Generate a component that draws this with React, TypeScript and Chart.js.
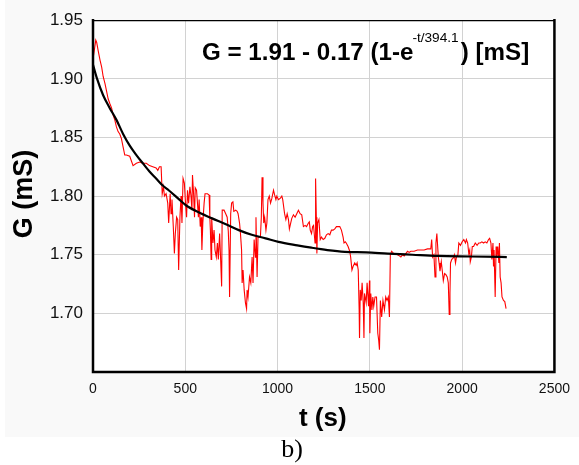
import React, { useEffect, useRef } from "react";
import { Chart, registerables } from "chart.js";

Chart.register(...registerables);

// ---- data ----
const xTickValues = [0, 500, 1000, 1500, 2000, 2500];
const yTickValues = [1.7, 1.75, 1.8, 1.85, 1.9, 1.95];

// fitted curve G = 1.91 - 0.17 (1 - e^(-t/394.1)) as drawn
const fitTime = [0, 20, 55, 91, 127, 163, 199, 235, 270, 306, 342, 378, 410, 468, 505, 575, 645, 720, 790, 860, 935, 1005, 1107, 1183, 1270, 1364, 1480, 1597, 1730, 1866, 2050, 2242];
const fitG = [1.912, 1.901, 1.886, 1.875, 1.865, 1.853, 1.843, 1.835, 1.828, 1.821, 1.815, 1.809, 1.805, 1.797, 1.792, 1.786, 1.781, 1.776, 1.771, 1.767, 1.764, 1.761, 1.758, 1.756, 1.754, 1.7525, 1.752, 1.751, 1.75, 1.749, 1.7485, 1.748];

// measured conductance trace: [t (s), G (mS)]
const measuredTrace: [number, number][] = [
  [3, 1.92], [15, 1.933], [20, 1.931], [28, 1.924], [38, 1.916], [47, 1.91], [55, 1.902], [65, 1.896], [74, 1.889], [82, 1.883],
  [91, 1.879], [101, 1.875], [109, 1.869], [118, 1.865], [127, 1.859], [136, 1.855], [145, 1.853], [154, 1.849], [163, 1.842], [172, 1.835],
  [181, 1.835], [199, 1.834], [217, 1.826], [235, 1.828], [253, 1.829], [270, 1.828], [289, 1.828], [306, 1.826], [324, 1.825], [342, 1.824],
  [351, 1.822], [360, 1.825], [369, 1.825],
  [375, 1.802], [382, 1.808], [387, 1.8], [396, 1.802], [405, 1.794], [410, 1.777], [418, 1.802], [423, 1.785], [428, 1.797], [435, 1.774],
  [441, 1.751], [446, 1.768], [453, 1.782], [459, 1.78], [464, 1.737], [471, 1.782], [477, 1.8], [482, 1.777], [488, 1.815], [495, 1.811],
  [500, 1.797], [507, 1.782], [512, 1.805], [518, 1.794], [525, 1.808], [531, 1.8], [536, 1.788], [539, 1.818], [545, 1.802], [550, 1.782],
  [554, 1.807], [561, 1.805], [566, 1.794], [571, 1.782], [575, 1.797], [581, 1.774], [586, 1.782], [590, 1.754], [595, 1.777], [602, 1.794],
  [607, 1.802], [620, 1.802], [629, 1.801], [633, 1.782], [636, 1.771], [640, 1.746], [643, 1.782], [650, 1.76], [656, 1.771], [661, 1.754],
  [668, 1.748], [674, 1.76], [679, 1.746], [686, 1.768], [691, 1.748], [697, 1.723], [700, 1.788], [710, 1.788], [719, 1.785], [727, 1.782],
  [733, 1.77], [737, 1.754], [740, 1.714], [746, 1.785], [751, 1.794], [758, 1.795],
  [763, 1.787], [773, 1.788], [781, 1.787], [786, 1.785], [794, 1.777], [799, 1.768], [805, 1.754], [808, 1.726], [813, 1.737], [819, 1.72],
  [826, 1.709], [832, 1.704], [835, 1.72], [840, 1.714], [848, 1.731], [855, 1.726], [862, 1.748], [867, 1.726], [873, 1.763], [880, 1.748],
  [883, 1.782], [889, 1.731], [894, 1.765], [907, 1.765], [912, 1.782], [916, 1.816], [921, 1.794], [925, 1.777], [930, 1.782], [937, 1.771],
  [942, 1.777], [948, 1.797], [955, 1.8], [962, 1.794], [969, 1.798], [978, 1.805], [984, 1.801], [991, 1.797], [996, 1.8], [1005, 1.797],
  [1014, 1.798], [1023, 1.8], [1028, 1.797], [1038, 1.785], [1045, 1.78], [1052, 1.785], [1059, 1.78], [1064, 1.772], [1071, 1.777], [1077, 1.781],
  [1086, 1.784], [1095, 1.782], [1104, 1.785], [1113, 1.788],
  [1122, 1.785], [1131, 1.784], [1140, 1.774], [1149, 1.775], [1157, 1.774], [1167, 1.777], [1172, 1.778], [1177, 1.771], [1184, 1.768], [1190, 1.774],
  [1195, 1.775], [1203, 1.76], [1206, 1.815], [1210, 1.782], [1213, 1.751], [1217, 1.777], [1224, 1.78], [1231, 1.763], [1238, 1.765], [1247, 1.763],
  [1256, 1.764], [1265, 1.767], [1274, 1.768], [1283, 1.767], [1292, 1.771], [1301, 1.771], [1310, 1.772], [1319, 1.774], [1328, 1.774], [1337, 1.774],
  [1346, 1.771], [1355, 1.765], [1360, 1.76], [1367, 1.761], [1372, 1.76], [1382, 1.757], [1391, 1.753], [1396, 1.748], [1403, 1.737], [1409, 1.74],
  [1418, 1.743], [1426, 1.741], [1431, 1.743], [1437, 1.737], [1442, 1.703], [1444, 1.679], [1448, 1.72], [1453, 1.711], [1458, 1.726], [1464, 1.709],
  [1468, 1.679], [1471, 1.717], [1480, 1.709], [1485, 1.726], [1493, 1.706], [1498, 1.728],
  [1500, 1.683], [1505, 1.717], [1511, 1.703], [1516, 1.714], [1521, 1.706], [1528, 1.714], [1536, 1.714], [1543, 1.683], [1548, 1.677], [1552, 1.669],
  [1557, 1.711], [1564, 1.697], [1571, 1.711], [1579, 1.703], [1586, 1.714], [1593, 1.711], [1600, 1.714], [1606, 1.697], [1611, 1.75], [1618, 1.753],
  [1629, 1.751], [1641, 1.751], [1650, 1.75], [1660, 1.749], [1668, 1.748], [1677, 1.75], [1686, 1.749], [1695, 1.751], [1704, 1.753], [1713, 1.752],
  [1722, 1.753], [1740, 1.753], [1758, 1.754], [1776, 1.754], [1794, 1.754], [1812, 1.755], [1830, 1.755], [1835, 1.763], [1840, 1.748], [1847, 1.75],
  [1853, 1.731], [1858, 1.76], [1863, 1.768],
  [1871, 1.748], [1875, 1.743], [1880, 1.736], [1887, 1.744], [1892, 1.737], [1898, 1.728], [1905, 1.734], [1912, 1.733], [1919, 1.731], [1925, 1.726],
  [1930, 1.699], [1934, 1.717], [1937, 1.743], [1944, 1.746], [1951, 1.747], [1958, 1.75], [1964, 1.743], [1969, 1.748], [1977, 1.75], [1982, 1.76],
  [1991, 1.758], [2000, 1.761], [2009, 1.763], [2018, 1.76], [2023, 1.763], [2030, 1.76], [2036, 1.751], [2041, 1.754], [2044, 1.744], [2050, 1.748],
  [2055, 1.757], [2062, 1.757], [2071, 1.76], [2081, 1.758], [2090, 1.76], [2098, 1.76], [2107, 1.761], [2116, 1.76], [2125, 1.761], [2134, 1.76],
  [2143, 1.763], [2149, 1.764], [2156, 1.76], [2161, 1.746], [2167, 1.76], [2170, 1.74], [2173, 1.754], [2179, 1.714], [2184, 1.757], [2188, 1.748],
  [2193, 1.757], [2199, 1.743], [2202, 1.76], [2206, 1.731], [2211, 1.726], [2216, 1.714], [2224, 1.711], [2231, 1.71], [2238, 1.704],
];

const FONT = "'Liberation Sans', Arial, Helvetica, sans-serif";

const decorations = {
  id: "decorations",
  beforeDraw(chart: any) {
    const { ctx, chartArea: a } = chart;
    ctx.save();
    ctx.fillStyle = "#ffffff";
    ctx.fillRect(0, 0, chart.width, chart.height);
    ctx.fillStyle = "#f9f9f9";
    ctx.fillRect(5, 0, chart.width - 5, 437);
    ctx.fillStyle = "#ffffff";
    ctx.fillRect(a.left, a.top, a.right - a.left, a.bottom - a.top);
    ctx.restore();
  },
  afterDraw(chart: any) {
    const { ctx, chartArea: a } = chart;
    ctx.save();
    // frame
    ctx.strokeStyle = "#000";
    ctx.lineCap = "square";
    ctx.lineWidth = 1.2;
    ctx.beginPath();
    ctx.moveTo(a.left, a.top + 0.5);
    ctx.lineTo(a.right, a.top + 0.5);
    ctx.stroke();
    ctx.lineWidth = 2.5;
    ctx.beginPath();
    ctx.moveTo(a.left, a.top);
    ctx.lineTo(a.left, a.bottom);
    ctx.lineTo(a.right, a.bottom);
    ctx.lineTo(a.right, a.top);
    ctx.stroke();

    ctx.fillStyle = "#000";
    // equation annotation
    ctx.save();
    ctx.translate(a.left + 109, a.top + 40);
    ctx.scale(1.05, 1);
    ctx.textBaseline = "alphabetic";
    ctx.textAlign = "left";
    let x = 0;
    ctx.font = `bold 23px ${FONT}`;
    const p1 = "G = 1.91 - 0.17 (1-e";
    ctx.fillText(p1, x, 0);
    x += ctx.measureText(p1).width;
    ctx.font = `13px ${FONT}`;
    const sup = "-t/394.1";
    ctx.fillText(sup, x - 1, -18);
    x += ctx.measureText(sup).width + 1;
    ctx.font = `bold 23px ${FONT}`;
    ctx.fillText(") [mS]", x, 0);
    ctx.restore();

    // y axis title
    ctx.save();
    ctx.translate(32, (a.top + a.bottom) / 2 - 2);
    ctx.rotate(-Math.PI / 2);
    ctx.font = `bold 27px ${FONT}`;
    ctx.textAlign = "center";
    ctx.textBaseline = "alphabetic";
    ctx.fillText("G (mS)", 0, 0);
    ctx.restore();

    // x axis title
    ctx.font = `bold 26px ${FONT}`;
    ctx.textAlign = "center";
    ctx.textBaseline = "alphabetic";
    ctx.fillText("t (s)", (a.left + a.right) / 2 - 1, 426);

    // panel label
    ctx.font = "26px 'Liberation Serif', 'Times New Roman', serif";
    ctx.fillText("b)", 292, 457);
    ctx.restore();
  },
};

export default function App() {
  const canvasRef = useRef<HTMLCanvasElement | null>(null);

  useEffect(() => {
    const canvas = canvasRef.current;
    if (!canvas) return;
    const chart = new Chart(canvas, {
      type: "scatter",
      data: {
        datasets: [
          {
            label: "fit",
            data: fitTime.map((t, i) => ({ x: t, y: fitG[i] })),
            showLine: true,
            borderColor: "#000000",
            borderWidth: 2.2,
            pointRadius: 0,
            cubicInterpolationMode: "monotone",
          },
          {
            label: "G",
            data: measuredTrace.map(([t, g]) => ({ x: t, y: g })),
            showLine: true,
            borderColor: "#ff0000",
            borderWidth: 1.1,
            pointRadius: 0,
            tension: 0,
          },
        ],
      },
      options: {
        responsive: false,
        animation: false,
        events: [],
        layout: { padding: { left: 0, top: 20, right: 21, bottom: 0 } },
        plugins: {
          legend: { display: false },
          tooltip: { enabled: false },
          title: { display: false },
        },
        scales: {
          x: {
            type: "linear",
            min: 0,
            max: 2500,
            afterFit: (s: any) => {
              s.height = 93;
            },
            afterBuildTicks: (s: any) => {
              s.ticks = xTickValues.map((v) => ({ value: v }));
            },
            border: { display: false },
            grid: { color: "#d2d2d2", lineWidth: 1, drawTicks: false },
            ticks: {
              padding: 9,
              color: "#111",
              font: { family: FONT, size: 14 },
              maxRotation: 0,
              callback: (v: any) => String(v),
            },
          },
          y: {
            type: "linear",
            min: 1.65,
            max: 1.95,
            afterFit: (s: any) => {
              s.width = 93;
            },
            afterBuildTicks: (s: any) => {
              s.ticks = [1.65, ...yTickValues].map((v) => ({ value: v }));
            },
            border: { display: false },
            grid: { color: "#d2d2d2", lineWidth: 1, drawTicks: false },
            ticks: {
              padding: 10,
              color: "#111",
              font: { family: FONT, size: 17 },
              callback: (v: any) => (Math.abs(Number(v) - 1.65) < 1e-6 ? "" : Number(v).toFixed(2)),
            },
          },
        },
      },
      plugins: [decorations],
    });
    return () => chart.destroy();
  }, []);

  return (
    <div style={{ position: "absolute", left: 0, top: 0, width: 579, height: 465 }}>
      <canvas ref={canvasRef} width={579} height={465} style={{ display: "block" }} />
    </div>
  );
}
